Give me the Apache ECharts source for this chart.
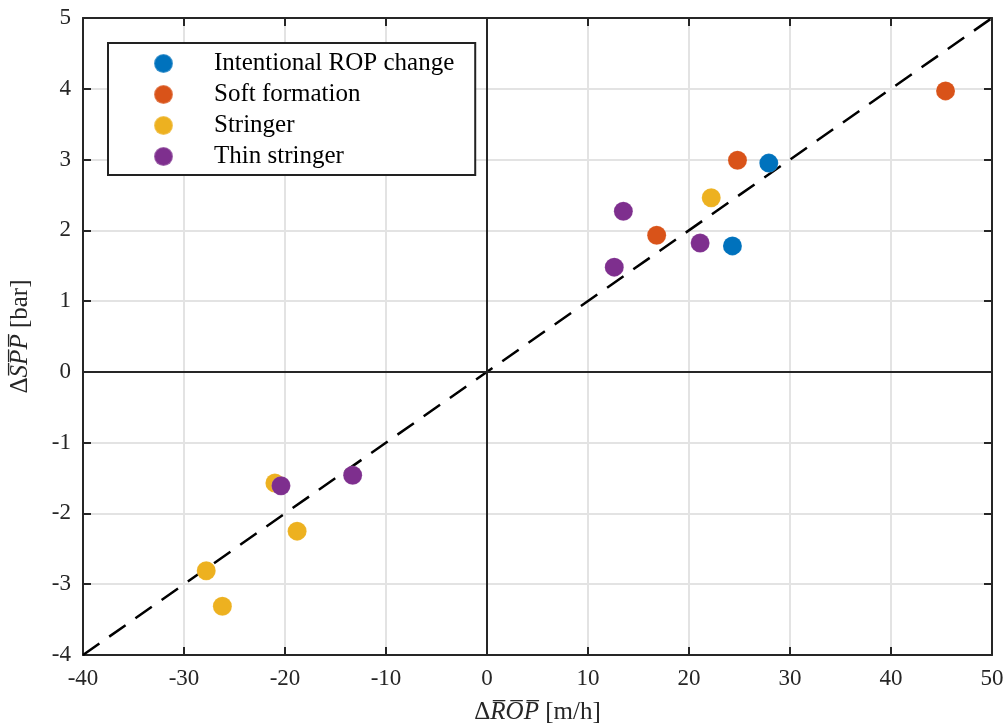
<!DOCTYPE html>
<html><head><meta charset="utf-8">
<script src="https://cdn.jsdelivr.net/npm/echarts@6/dist/echarts.min.js"></script>
<style>html,body{margin:0;padding:0;background:#fff}#c{width:1006px;height:728px}</style>
</head><body><div id="c"></div>
<script>
const seriesNames = ['Intentional ROP change', 'Soft formation', 'Stringer', 'Thin stringer'];
const intentional = [[27.9, 2.95], [24.3, 1.78]];
const softFormation = [[45.4, 3.97], [24.8, 2.99], [16.8, 1.93]];
const stringer = [[22.2, 2.46], [-21.0, -1.57], [-18.8, -2.25], [-27.8, -2.81], [-26.2, -3.31]];
const thinStringer = [[13.5, 2.27], [12.6, 1.48], [21.1, 1.82], [-20.4, -1.61], [-13.3, -1.46]];
const refLine = [[-40, -4], [50, 5]];
const xRange = [-40, 50];
const yRange = [-4, 5];

const colors = ['#0072BD', '#D95319', '#EDB120', '#7E2F8E'];
const font = 'Liberation Serif';
const axisColor = '#262626';

const chart = echarts.init(document.getElementById('c'));
const baseAxis = {
  axisLine: {show: true, onZero: false, lineStyle: {color: axisColor, width: 2}},
  axisTick: {show: true, inside: true, length: 8, lineStyle: {color: axisColor, width: 2}},
  splitLine: {show: false}
};
function scatter(name, data, color) {
  return {
    name, type: 'scatter', data, symbol: 'circle', symbolSize: 19,
    itemStyle: {color, opacity: 1, borderColor: 'rgba(255,255,255,0.25)', borderWidth: 0.5}, z: 5
  };
}
const titleRich = {
  d: {fontFamily: font, fontSize: 25, color: '#262626'},
  i: {fontFamily: font, fontSize: 25, fontStyle: 'italic', color: '#262626'},
  n: {fontFamily: font, fontSize: 25, color: '#262626'}
};
chart.setOption({
  animation: false,
  color: colors,
  grid: {left: 83, right: 14, top: 18, bottom: 73, containLabel: false, outerBoundsMode: 'none'},
  legend: {
    data: seriesNames.map(n => ({name: n, icon: 'circle', itemStyle: {opacity: 1}})),
    orient: 'vertical', left: 108, top: 43,
    itemWidth: 19, itemHeight: 19, itemGap: 6,
    padding: [8, 21, 6, 45],
    borderColor: '#222', borderWidth: 2, backgroundColor: '#fff',
    textStyle: {fontFamily: font, fontSize: 25, color: '#000', padding: [0, 0, 0, 36]}
  },
  xAxis: [
    Object.assign({}, baseAxis, {
      type: 'value', min: xRange[0], max: xRange[1], interval: 10, position: 'bottom',
      splitLine: {show: true, lineStyle: {color: '#e3e3e3', width: 2}},
      axisLabel: {fontFamily: font, fontSize: 23, color: '#262626', margin: 12},
      name: '{d|Δ}{i|R̅O̅P̅} {n|[m/h]}', nameLocation: 'middle', nameGap: 45,
      nameTextStyle: {fontFamily: font, fontSize: 25, color: '#262626', rich: titleRich}
    }),
    Object.assign({}, baseAxis, {
      type: 'value', min: xRange[0], max: xRange[1], interval: 10, position: 'top',
      axisLabel: {show: false}
    })
  ],
  yAxis: [
    Object.assign({}, baseAxis, {
      type: 'value', min: yRange[0], max: yRange[1], interval: 1, position: 'left',
      splitLine: {show: true, lineStyle: {color: '#e3e3e3', width: 2}},
      axisLabel: {fontFamily: font, fontSize: 23, color: '#262626', margin: 12},
      name: '{d|Δ}{i|S̅P̅P̅} {n|[bar]}', nameLocation: 'middle', nameGap: 50, nameRotate: 90,
      nameTextStyle: {fontFamily: font, fontSize: 25, color: '#262626', rich: titleRich}
    }),
    Object.assign({}, baseAxis, {
      type: 'value', min: yRange[0], max: yRange[1], interval: 1, position: 'right',
      axisLabel: {show: false}
    })
  ],
  series: [
    {
      name: 'zero', type: 'line', data: [], silent: true,
      markLine: {
        symbol: 'none', silent: true, label: {show: false},
        lineStyle: {color: axisColor, width: 2, type: 'solid'},
        data: [{xAxis: 0}, {yAxis: 0}]
      }, z: 2
    },
    {
      name: 'ref', type: 'line', data: refLine, symbol: 'none', silent: true,
      lineStyle: {color: '#000', width: 2.5, type: [20, 12]}, z: 3
    },
    scatter(seriesNames[0], intentional, colors[0]),
    scatter(seriesNames[1], softFormation, colors[1]),
    scatter(seriesNames[2], stringer, colors[2]),
    scatter(seriesNames[3], thinStringer, colors[3])
  ]
});
</script></body></html>
